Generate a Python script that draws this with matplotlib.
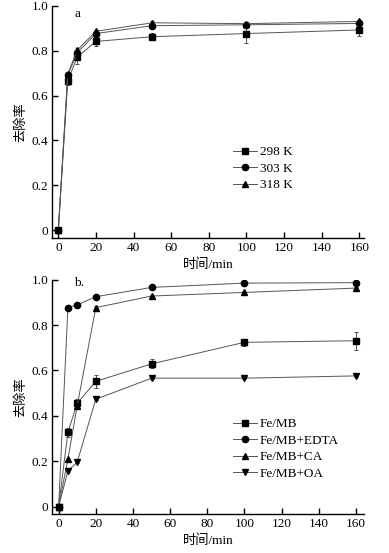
import matplotlib
matplotlib.use("Agg")
import matplotlib.pyplot as plt
import numpy as np

plt.rcParams['font.family'] = ['Liberation Serif', 'Noto Sans CJK SC']
plt.rcParams['axes.unicode_minus'] = False

# ---- data ----
t = [0, 5, 10, 20, 50, 100, 160]

temp_labels = ['298 K', '303 K', '318 K']
r298 = [0, 0.664, 0.771, 0.841, 0.862, 0.876, 0.892]
r303 = [0, 0.690, 0.790, 0.876, 0.911, 0.915, 0.921]
r318 = [0, 0.695, 0.802, 0.886, 0.924, 0.920, 0.930]
e298 = [0, 0.015, 0.030, 0.020, 0.015, 0.040, 0.025]
e303 = [0, 0.010, 0.010, 0.010, 0.008, 0.010, 0.008]
e318 = [0, 0.010, 0.010, 0.008, 0.008, 0.008, 0.008]

agent_labels = ['Fe/MB', 'Fe/MB+EDTA', 'Fe/MB+CA', 'Fe/MB+OA']
fe_mb = [0, 0.328, 0.455, 0.552, 0.629, 0.724, 0.731]
fe_edta = [0, 0.877, 0.889, 0.925, 0.966, 0.985, 0.987]
fe_ca = [0, 0.209, 0.445, 0.877, 0.928, 0.944, 0.963]
fe_oa = [0, 0.157, 0.196, 0.473, 0.566, 0.566, 0.576]
err_mb = [0, 0.020, 0.020, 0.030, 0.020, 0.015, 0.040]
err_edta = [0, 0.005, 0.005, 0.005, 0.005, 0.005, 0.005]
err_ca = [0, 0.005, 0.010, 0.005, 0.005, 0.005, 0.005]
err_oa = [0, 0.005, 0.005, 0.005, 0.005, 0.005, 0.005]

yticks = [0, 0.2, 0.4, 0.6, 0.8, 1.0]
ytick_labels = ['0', '0.2', '0.4', '0.6', '0.8', '1.0']
xticks = [0, 20, 40, 60, 80, 100, 120, 140, 160]

W, H = 389, 553
fig = plt.figure(figsize=(W / 100, H / 100), dpi=100)

fs = 9.5
line_kw = dict(color='#555555', lw=0.7, mec='black', mfc='black', ms=4.5,
               ecolor='#333333', elinewidth=0.6, capsize=1.5, capthick=0.6)


def style(ax, xlim, ylim):
    ax.set_xlim(*xlim)
    ax.set_ylim(*ylim)
    for s in ['top', 'right']:
        ax.spines[s].set_visible(False)
    for s in ['left', 'bottom']:
        ax.spines[s].set_linewidth(1.0)
    ax.set_xticks(xticks)
    ax.set_yticks(yticks)
    ax.set_yticklabels(ytick_labels)
    ax.tick_params(direction='in', length=4, width=1.0, labelsize=fs, pad=3)
    ax.set_xlabel('时间/min', fontsize=fs, labelpad=3)
    ax.set_ylabel('去除率', fontsize=fs, labelpad=3)


def add_legend(ax, conts, labels, top_px):
    handles = [c.lines[0] for c in conts]
    ax.legend(handles, labels, loc='upper left', bbox_to_anchor=(233 / W, 1 - top_px / H),
              bbox_transform=fig.transFigure, frameon=False, fontsize=fs,
              handlelength=1.8, handletextpad=0.25, labelspacing=0.32,
              borderpad=0, borderaxespad=0)


# top panel
ax1 = fig.add_axes([52.3 / W, (H - 237.7) / H, (364 - 52.3) / W, (237.7 - 5.7) / H])
markers1 = ['s', 'o', '^']
conts1 = []
for vals, errs, m in zip([r298, r303, r318], [e298, e303, e318], markers1):
    conts1.append(ax1.errorbar(t, vals, yerr=errs, marker=m, **line_kw))
style(ax1, (-3.2, 162.5), (-0.033, 1.0))
ax1.text(0.07, 0.965, 'a', transform=ax1.transAxes, fontsize=fs, va='center', ha='left')
add_legend(ax1, conts1, temp_labels, 146)

# bottom panel
ax2 = fig.add_axes([52.3 / W, (H - 514.3) / H, (364 - 52.3) / W, (514.3 - 279.7) / H])
markers2 = ['s', 'o', '^', 'v']
conts2 = []
for vals, errs, m in zip([fe_mb, fe_edta, fe_ca, fe_oa], [err_mb, err_edta, err_ca, err_oa], markers2):
    conts2.append(ax2.errorbar(t, vals, yerr=errs, marker=m, **line_kw))
style(ax2, (-3.4, 164.3), (-0.034, 1.0))
ax2.text(0.07, 0.985, 'b.', transform=ax2.transAxes, fontsize=fs, va='center', ha='left')
add_legend(ax2, conts2, agent_labels, 418)

fig.savefig('out.png', dpi=100)
